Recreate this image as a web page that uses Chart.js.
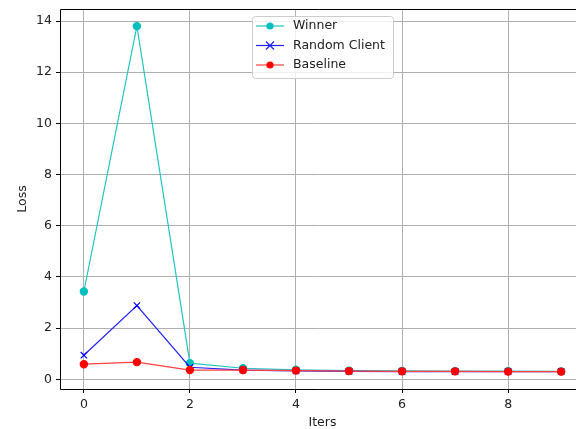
<!DOCTYPE html>
<html>
<head>
<meta charset="utf-8">
<script src="https://cdn.jsdelivr.net/npm/chart.js@4/dist/chart.umd.min.js"></script>
<style>
html,body{margin:0;padding:0;overflow:hidden;background:#fff;}
canvas{display:block;}
</style>
</head>
<body>
<canvas id="c" width="576" height="429" style="width:576px;height:429px"></canvas>
<script>
const iters = [0, 1, 2, 3, 4, 5, 6, 7, 8, 9];
const winner = [3.43, 13.8, 0.63, 0.43, 0.37, 0.34, 0.33, 0.32, 0.32, 0.31];
const randomClient = [0.94, 2.88, 0.47, 0.36, 0.33, 0.31, 0.30, 0.30, 0.30, 0.30];
const baseline = [0.59, 0.67, 0.36, 0.36, 0.34, 0.32, 0.31, 0.31, 0.30, 0.30];
const xTicks = [0, 2, 4, 6, 8];
const yTicks = [0, 2, 4, 6, 8, 10, 12, 14];
const seriesNames = ['Winner', 'Random Client', 'Baseline'];

const FONT = 'DejaVu Sans';
const PLOT_RIGHT = 585; // axes extend past the right edge of the picture
const toPts = arr => arr.map((v, i) => ({x: iters[i], y: v}));

const extendRight = {
  id: 'extendRight',
  afterLayout(chart) {
    const a = chart.chartArea;
    a.right = PLOT_RIGHT;
    a.width = a.right - a.left;
    const xs = chart.scales.x;
    xs.right = PLOT_RIGHT;
    xs.width = xs.right - xs.left;
    xs.configure();
  }
};

const frameAndLegend = {
  id: 'frameAndLegend',
  afterDraw(chart) {
    const {ctx, chartArea: a} = chart;
    ctx.save();
    ctx.strokeStyle = '#000';
    ctx.lineWidth = 1;
    const t = Math.round(a.top) + 0.5, b = Math.round(a.bottom) + 0.5, l = Math.round(a.left) + 0.5;
    ctx.beginPath();
    ctx.moveTo(l, b);
    ctx.lineTo(l, t);
    ctx.lineTo(a.right, t);
    ctx.moveTo(l, b);
    ctx.lineTo(a.right, b);
    ctx.stroke();
    // legend
    const bx = 252.5, by = 16.5, bw = 141, bh = 62, r = 3;
    ctx.beginPath();
    ctx.moveTo(bx + r, by);
    ctx.lineTo(bx + bw - r, by);
    ctx.quadraticCurveTo(bx + bw, by, bx + bw, by + r);
    ctx.lineTo(bx + bw, by + bh - r);
    ctx.quadraticCurveTo(bx + bw, by + bh, bx + bw - r, by + bh);
    ctx.lineTo(bx + r, by + bh);
    ctx.quadraticCurveTo(bx, by + bh, bx, by + bh - r);
    ctx.lineTo(bx, by + r);
    ctx.quadraticCurveTo(bx, by, bx + r, by);
    ctx.closePath();
    ctx.fillStyle = 'rgba(255,255,255,0.8)';
    ctx.fill();
    ctx.strokeStyle = '#cccccc';
    ctx.stroke();
    const rows = [26, 45.5, 65];
    chart.data.datasets.forEach((ds, i) => {
      const y = rows[i];
      ctx.strokeStyle = ds.borderColor;
      ctx.lineWidth = ds.borderWidth;
      ctx.beginPath();
      ctx.moveTo(256, y);
      ctx.lineTo(284, y);
      ctx.stroke();
      if (ds.pointStyle === 'crossRot') {
        ctx.lineWidth = 1.2;
        ctx.beginPath();
        const s = 4;
        ctx.moveTo(270 - s, y - s); ctx.lineTo(270 + s, y + s);
        ctx.moveTo(270 - s, y + s); ctx.lineTo(270 + s, y - s);
        ctx.stroke();
      } else {
        ctx.fillStyle = ds.pointBackgroundColor;
        ctx.beginPath();
        ctx.arc(270, y, ds.pointRadius, 0, Math.PI * 2);
        ctx.fill();
      }
      ctx.fillStyle = '#222';
      ctx.font = '12.5px "' + FONT + '"';
      ctx.textBaseline = 'middle';
      ctx.textAlign = 'left';
      ctx.fillText(ds.label, 293, y);
    });
    ctx.restore();
  }
};

const gridColor = ctx => (ctx.tick && (ctx.scale.axis === 'x' ? xTicks : yTicks).includes(ctx.tick.value)) ? '#b0b0b0' : 'rgba(0,0,0,0)';
const tickColor = ctx => (ctx.tick && (ctx.scale.axis === 'x' ? xTicks : yTicks).includes(ctx.tick.value)) ? '#000' : 'rgba(0,0,0,0)';

new Chart(document.getElementById('c'), {
  type: 'line',
  data: {
    datasets: [
      {label: seriesNames[0], data: toPts(winner), borderColor: '#22c4c4', backgroundColor: '#00bfbf',
       pointBackgroundColor: '#00bfbf', pointBorderColor: '#00bfbf', pointStyle: 'circle', pointRadius: 3.6,
       borderWidth: 1.2, order: 3},
      {label: seriesNames[1], data: toPts(randomClient), borderColor: '#2020ff', backgroundColor: '#0000ff',
       pointBackgroundColor: '#0000ff', pointBorderColor: '#0000ff', pointStyle: 'crossRot', pointRadius: 4.5,
       pointBorderWidth: 1.2, borderWidth: 1.2, order: 2},
      {label: seriesNames[2], data: toPts(baseline), borderColor: '#ff4040', backgroundColor: '#ff0000',
       pointBackgroundColor: '#ff0000', pointBorderColor: '#ff0000', pointStyle: 'circle', pointRadius: 3.6,
       borderWidth: 1.2, order: 1}
    ]
  },
  options: {
    responsive: false,
    animation: false,
    devicePixelRatio: 1,
    layout: {padding: {left: 0, top: 9, right: 0, bottom: 0}},
    plugins: {legend: {display: false}, tooltip: {enabled: false}},
    elements: {line: {tension: 0, fill: false}},
    scales: {
      x: {
        type: 'linear', min: -0.45, max: 9.45,
        afterBuildTicks: s => { s.ticks = xTicks.map(v => ({value: v})); },
        afterFit: s => { s.height = 40; s.paddingLeft = 0; s.paddingRight = 0; s.paddingTop = 0; s.paddingBottom = 0; },
        grid: {color: gridColor, lineWidth: 1, tickColor: tickColor, tickLength: 4, drawTicks: true},
        border: {display: false},
        ticks: {font: {family: FONT, size: 12.5}, color: '#222', padding: 4, maxRotation: 0, includeBounds: false},
        title: {display: true, text: 'Iters', font: {family: FONT, size: 12.5, lineHeight: 1}, color: '#222', padding: {top: 0, bottom: 0}}
      },
      y: {
        type: 'linear', min: -0.38, max: 14.47,
        afterBuildTicks: s => { s.ticks = yTicks.map(v => ({value: v})); },
        afterFit: s => { s.width = 60; s.paddingLeft = 0; s.paddingRight = 0; s.paddingTop = 0; s.paddingBottom = 0; },
        grid: {color: gridColor, lineWidth: 1, tickColor: tickColor, tickLength: 4, drawTicks: true},
        border: {display: false},
        ticks: {font: {family: FONT, size: 12.5}, color: '#222', padding: 4, includeBounds: false},
        title: {display: true, text: 'Loss', font: {family: FONT, size: 12.5}, color: '#222', padding: {top: 15, bottom: 0}}
      }
    }
  },
  plugins: [extendRight, frameAndLegend]
});
</script>
</body>
</html>
